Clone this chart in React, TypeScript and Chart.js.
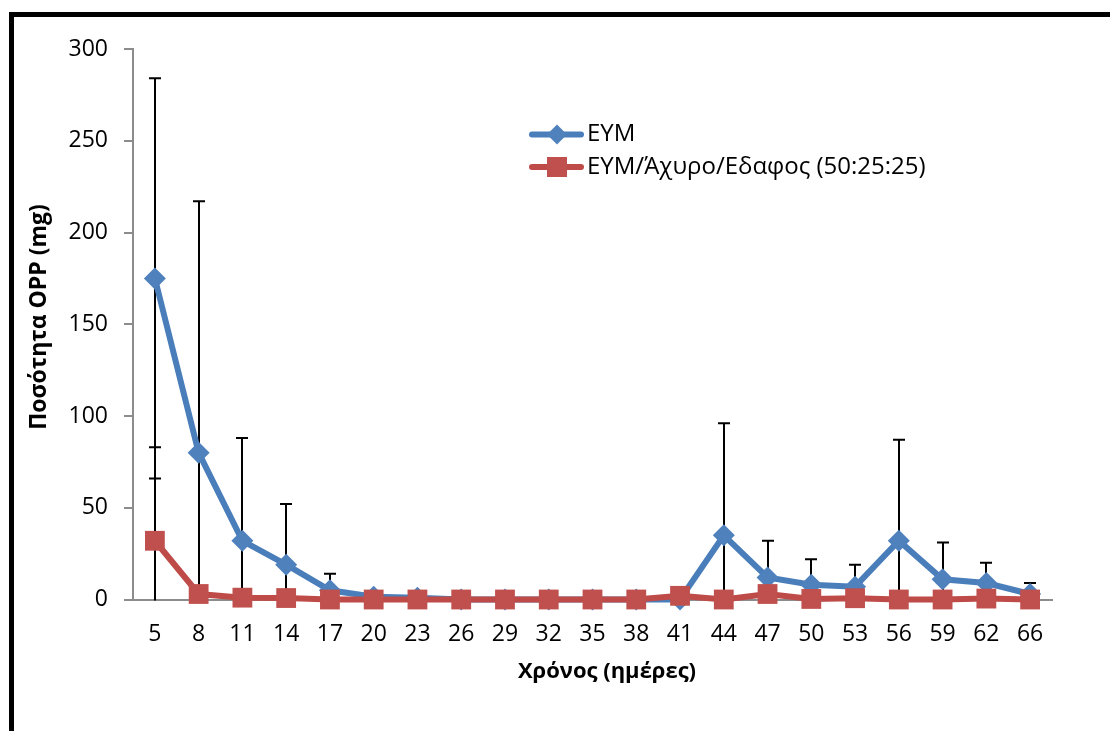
import React, { useEffect, useRef } from "react";
import { Chart, registerables } from "chart.js";

Chart.register(...registerables);

const days = ["5", "8", "11", "14", "17", "20", "23", "26", "29", "32", "35", "38", "41", "44", "47", "50", "53", "56", "59", "62", "66"];
const eym = [175, 80, 32, 19, 5, 1.5, 1, 0, 0, 0, 0, 0, 0, 35, 12, 8, 7, 32, 11, 9, 3];
const eymErr = [109, 137, 56, 33, 9, 3, 2, 0, 0, 0, 0, 0, 0, 61, 20, 14, 12, 55, 20, 11, 6];
const mix = [32, 3, 1, 0.8, 0, 0, 0, 0, 0, 0, 0, 0, 2, 0, 3, 0.3, 0.7, 0, 0, 0.5, 0];
const mixErr = [51, 3, 1, 1, 0, 0, 0, 0, 0, 0, 0, 0, 2, 0, 3, 0, 0, 0, 0, 0, 0];
const yTicks = [0, 50, 100, 150, 200, 250, 300];

const seriesNames = ["ΕΥΜ", "ΕΥΜ/Άχυρο/Εδαφος (50:25:25)"];
const xTitle = "Χρόνος (ημέρες)";
const yTitle = "Ποσότητα OPP (mg)";
const blue = "#4A7EBB";
const blueFill = "#4F81BD";
const red = "#BE4B48";
const redFill = "#C0504D";
const FONT = "'Open Sans', 'Noto Sans', sans-serif";

const errorBarPlugin = {
  id: "errorBars",
  beforeDatasetsDraw(chart: any) {
    const { ctx, chartArea, scales } = chart;
    const x = scales.x;
    const y = scales.y;
    ctx.save();
    ctx.beginPath();
    ctx.rect(chartArea.left, chartArea.top, chartArea.right - chartArea.left, chartArea.bottom - chartArea.top + 1);
    ctx.clip();
    ctx.strokeStyle = "#000";
    ctx.lineWidth = 2;
    const sets = [
      { vals: eym, errs: eymErr },
      { vals: mix, errs: mixErr },
    ];
    const cap = 6;
    sets.forEach((s) => {
      s.vals.forEach((v, i) => {
        const e = s.errs[i];
        if (!e) return;
        const px = Math.round(x.getPixelForValue(i));
        const top = y.getPixelForValue(v + e);
        const bot = y.getPixelForValue(v - e);
        ctx.beginPath();
        ctx.moveTo(px, top);
        ctx.lineTo(px, bot);
        ctx.moveTo(px - cap, top);
        ctx.lineTo(px + cap, top);
        if (v - e > 0) {
          ctx.moveTo(px - cap, bot);
          ctx.lineTo(px + cap, bot);
        }
        ctx.stroke();
      });
    });
    ctx.restore();
  },
};

const textPlugin = {
  id: "customText",
  afterDraw(chart: any) {
    const { ctx } = chart;
    ctx.save();
    const rows = [
      { y: 134.5, color: blue, fill: blueFill, style: "diamond", label: seriesNames[0] },
      { y: 167, color: red, fill: redFill, style: "square", label: seriesNames[1] },
    ];
    rows.forEach((r) => {
      ctx.strokeStyle = r.color;
      ctx.lineWidth = 6;
      ctx.lineCap = "round";
      ctx.beginPath();
      ctx.moveTo(532, r.y);
      ctx.lineTo(581, r.y);
      ctx.stroke();
      ctx.fillStyle = r.fill;
      ctx.beginPath();
      if (r.style === "diamond") {
        ctx.moveTo(557, r.y - 10);
        ctx.lineTo(567, r.y);
        ctx.lineTo(557, r.y + 10);
        ctx.lineTo(547, r.y);
        ctx.closePath();
      } else {
        ctx.rect(547, r.y - 10, 20, 20);
      }
      ctx.fill();
      ctx.fillStyle = "#000";
      ctx.font = `24px ${FONT}`;
      ctx.textBaseline = "middle";
      ctx.textAlign = "left";
      ctx.fillText(r.label, 587, r.y);
    });
    // axis titles
    ctx.fillStyle = "#000";
    ctx.font = `bold 22px ${FONT}`;
    ctx.textAlign = "center";
    ctx.textBaseline = "middle";
    ctx.fillText(xTitle, 607, 672);
    ctx.translate(39, 317);
    ctx.rotate(-Math.PI / 2);
    ctx.font = `bold 23px ${FONT}`;
    ctx.fillText(yTitle, 0, 0);
    ctx.restore();
  },
};

export default function App() {
  const ref = useRef<HTMLCanvasElement>(null);
  useEffect(() => {
    if (!ref.current) return;
    const chart = new Chart(ref.current, {
      type: "line",
      data: {
        labels: days,
        datasets: [
          {
            label: seriesNames[0],
            data: eym,
            borderColor: blue,
            backgroundColor: blueFill,
            borderWidth: 6,
            pointStyle: "rectRot",
            pointRadius: 11,
            pointBorderWidth: 0,
            pointBackgroundColor: blueFill,
            tension: 0,
            order: 2,
          },
          {
            label: seriesNames[1],
            data: mix,
            borderColor: red,
            backgroundColor: redFill,
            borderWidth: 6,
            pointStyle: "rect",
            pointRadius: 14,
            pointBorderWidth: 0,
            pointBackgroundColor: redFill,
            tension: 0,
            order: 1,
          },
        ],
      },
      options: {
        animation: false,
        responsive: false,
        clip: false as any,
        layout: { padding: { left: 20, right: 58, top: 49, bottom: 0 } },
        plugins: {
          legend: { display: false },
          tooltip: { enabled: false },
        },
        scales: {
          x: {
            type: "category",
            offset: true,
            grid: { display: false, drawTicks: false },
            border: { display: true, color: "#8c8c8c", width: 2 },
            ticks: { color: "#000", font: { family: FONT, size: 23 }, padding: 21, maxRotation: 0, autoSkip: false },
            afterFit: (s: any) => {
              s.height = 131.5;
            },
          },
          y: {
            min: 0,
            max: 300,
            afterBuildTicks: (s: any) => {
              s.ticks = yTicks.map((v) => ({ value: v }));
            },
            grid: { drawOnChartArea: false, drawTicks: true, tickLength: 9, color: "#8c8c8c", lineWidth: 2 },
            border: { display: true, color: "#8c8c8c", width: 2 },
            ticks: { color: "#000", font: { family: FONT, size: 23 }, padding: 16 },
            afterFit: (s: any) => {
              s.width = 113;
            },
          },
        },
      },
      plugins: [errorBarPlugin, textPlugin],
    });
    return () => chart.destroy();
  }, []);

  return (
    <div style={{ position: "absolute", left: 0, top: 0, width: 1110, height: 731, overflow: "hidden", background: "#fff" }}>
      <div
        style={{
          position: "absolute",
          left: 9,
          top: 12,
          width: 1200,
          height: 800,
          borderLeft: "5px solid #000",
          borderTop: "5px solid #000",
        }}
      />
      <canvas ref={ref} width={1110} height={731} style={{ position: "absolute", left: 0, top: 0, width: 1110, height: 731 }} />
    </div>
  );
}
